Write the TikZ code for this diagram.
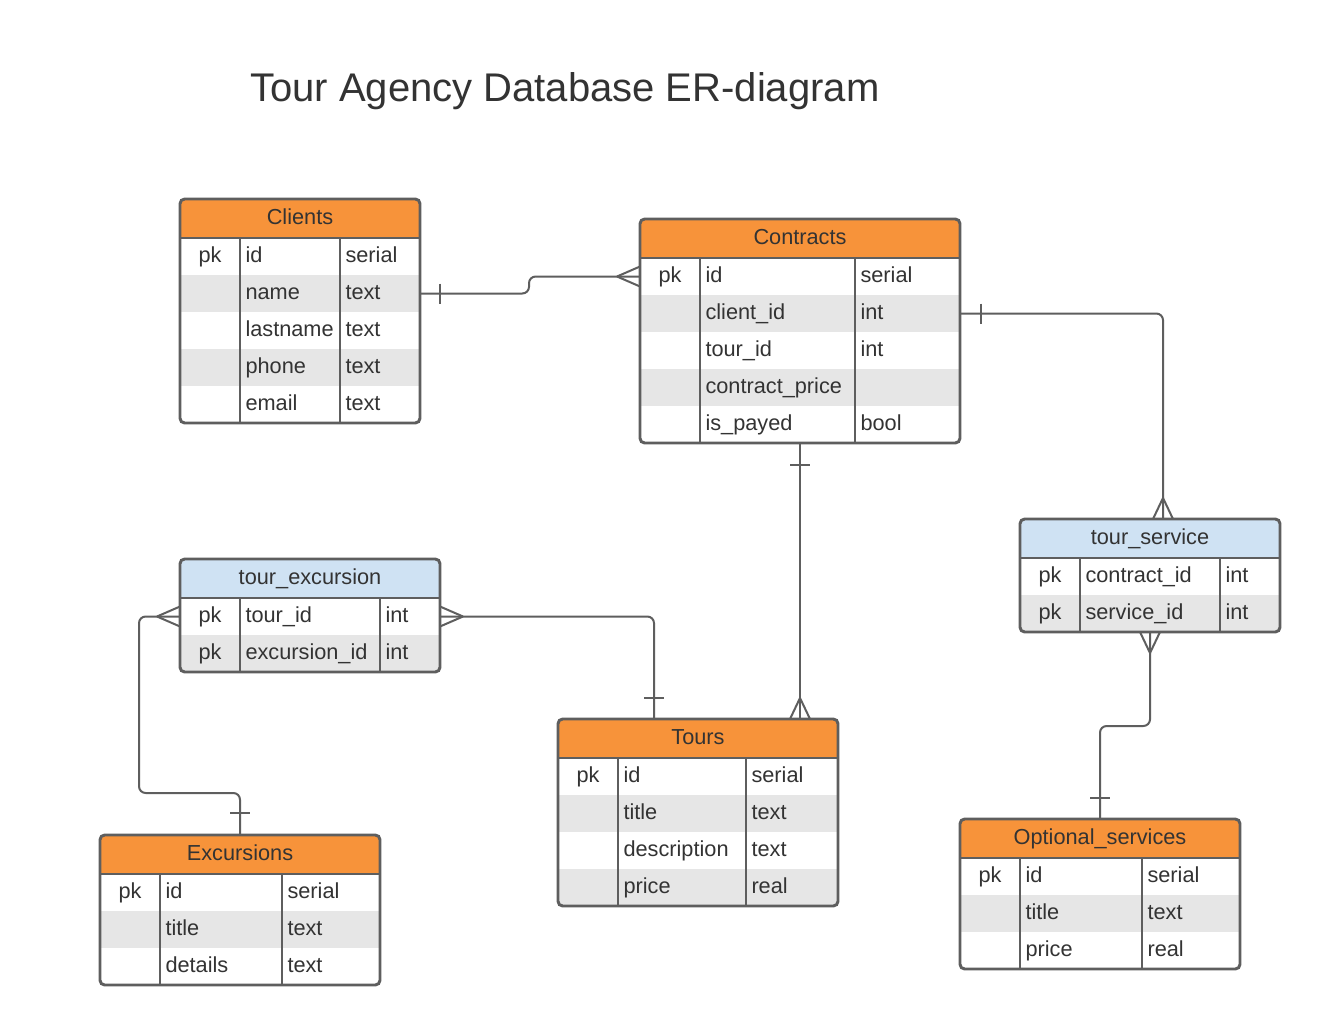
\documentclass[tikz,border=0pt]{standalone}
\usepackage{fontspec}
\setmainfont{Liberation Sans}
\usetikzlibrary{calc}
\definecolor{hdrorange}{HTML}{F7933A}
\definecolor{hdrblue}{HTML}{CFE2F3}
\definecolor{rowgray}{HTML}{E6E6E6}
\definecolor{linegray}{HTML}{5E5E5E}
\definecolor{txt}{HTML}{333333}
\tikzset{
  tabline/.style={draw=linegray, line width=2.2pt},
  conn/.style={draw=linegray, line width=1.5pt},
  celltxt/.style={font=\fontsize{16.3}{19}\selectfont, text=txt, inner sep=0pt, outer sep=0pt, text height=11.7pt, text depth=3.4pt},
  rowbox/.style={draw=none, inner sep=0pt, outer sep=0pt, minimum height={37*0.75pt}},
}
\newcommand\ertable[9]{%
  \foreach \a/\b/\c [count=\n] in {#9}{\xdef\ernrows{\n}}%
  \pgfmathsetmacro\erbot{#3+39+\ernrows*37}%
  \begin{scope}
    \clip[rounded corners=3.5pt] (#2,#3) rectangle (#2+#4,\erbot);
    \fill[#7] (#2,#3) rectangle (#2+#4,#3+39);
    \foreach \a/\b/\c [count=\i] in {#9}{%
      \pgfmathsetmacro\ytop{#3+39+(\i-1)*37}%
      \ifodd\i\def\rf{white}\else\def\rf{rowgray}\fi
      \node[rowbox, fill=\rf, minimum width={#4*0.75pt}, anchor=north west] (#1-\i) at (#2,\ytop) {};
      \node[celltxt] (#1-\i-k) at ({(#2+#5)/2},\ytop+19.3) {\a};
      \node[celltxt, anchor=west] (#1-\i-n) at (#5+5.5,\ytop+19.3) {\b};
      \node[celltxt, anchor=west] (#1-\i-t) at (#6+5.5,\ytop+19.3) {\c};
    }
  \end{scope}
  \draw[tabline] (#2,#3+39) -- (#2+#4,#3+39);
  \draw[tabline] (#5,#3+39) -- (#5,\erbot);
  \draw[tabline] (#6,#3+39) -- (#6,\erbot);
  \node[draw=linegray, line width=2.2pt, rounded corners=3.5pt, inner sep=0pt, outer sep=0pt,
        minimum width={#4*0.75pt}, minimum height={(\erbot-#3)*0.75pt}, anchor=north west] (#1) at (#2,#3) {};
  \node[celltxt] (#1-h) at ({#2+#4/2},#3+20) {#8};
}
\newcommand\crowH[2]{\draw[conn] ($(#1)+(#2*23,0)$) -- ($(#1)+(0,-10)$) ($(#1)+(#2*23,0)$) -- ($(#1)+(0,10)$);}
\newcommand\crowV[2]{\draw[conn] ($(#1)+(0,#2*21)$) -- ($(#1)+(-10,0)$) ($(#1)+(0,#2*21)$) -- ($(#1)+(10,0)$);}
\newcommand\tickH[2]{\draw[conn] ($(#1)+(#2,-10)$) -- ($(#1)+(#2,10)$);}
\newcommand\tickV[2]{\draw[conn] ($(#1)+(-10,#2)$) -- ($(#1)+(10,#2)$);}
\begin{document}
\begin{tikzpicture}[x=0.75pt, y=-0.75pt]
\useasboundingbox (0,0) rectangle (1320,1027);
\fill[white] (0,0) rectangle (1320,1027);

\node[font=\fontsize{30}{34}\selectfont, text=txt, anchor=base west, inner sep=0pt] (title) at (250,102) {Tour Agency Database ER-diagram};

\ertable{clients}{180}{199}{240}{240}{340}{hdrorange}{Clients}{pk/id/serial,/name/text,/lastname/text,/phone/text,/email/text}
\ertable{contracts}{640}{219}{320}{700}{855}{hdrorange}{Contracts}{pk/id/serial,/client\_id/int,/tour\_id/int,/contract\_price/,/is\_payed/bool}
\ertable{tsrv}{1020}{519}{260}{1080}{1220}{hdrblue}{tour\_service}{pk/contract\_id/int,pk/service\_id/int}
\ertable{texc}{180}{559}{260}{240}{380}{hdrblue}{tour\_excursion}{pk/tour\_id/int,pk/excursion\_id/int}
\ertable{tours}{558}{719}{280}{618}{746}{hdrorange}{Tours}{pk/id/serial,/title/text,/description/text,/price/real}
\ertable{exc}{100}{835}{280}{160}{282}{hdrorange}{Excursions}{pk/id/serial,/title/text,/details/text}
\ertable{opt}{960}{819}{280}{1020}{1142}{hdrorange}{Optional\_services}{pk/id/serial,/title/text,/price/real}

% Clients -- Contracts
\coordinate (c1) at ($(clients-2.east)+(109,0)$);
\draw[conn, rounded corners=5pt] (clients-2.east) -- (c1) -- (c1 |- contracts-1.west) -- (contracts-1.west);
\tickH{clients-2.east}{20}
\crowH{contracts-1.west}{-1}

% Contracts -- tour_service
\coordinate (tstop) at ($(tsrv.north)+(13,0)$);
\draw[conn, rounded corners=5pt] (contracts-2.east) -- (contracts-2.east -| tstop) -- (tstop);
\tickH{contracts-2.east}{21}
\crowV{tstop}{-1}

% Contracts -- Tours
\coordinate (trtop) at (contracts.south |- tours.north);
\draw[conn] (contracts.south) -- (trtop);
\tickV{contracts.south}{22}
\crowV{trtop}{-1}

% tour_excursion -- Tours
\coordinate (trtop2) at ($(tours.north)+(-44,0)$);
\draw[conn, rounded corners=5pt] (texc-1.east) -- (texc-1.east -| trtop2) -- (trtop2);
\crowH{texc-1.east}{1}
\tickV{trtop2}{-21}

% tour_excursion -- Excursions
\coordinate (lft) at ($(texc-1.west)+(-41,0)$);
\coordinate (bend) at ($(exc.north)+(0,-42)$);
\draw[conn, rounded corners=5pt] (texc-1.west) -- (lft) -- (lft |- bend) -- (bend) -- (exc.north);
\crowH{texc-1.west}{-1}
\tickV{exc.north}{-22}

% tour_service -- Optional_services
\coordinate (mid) at ($(tsrv.south)+(0,94)$);
\draw[conn, rounded corners=5pt] (tsrv.south) -- (mid) -- (mid -| opt.north) -- (opt.north);
\crowV{tsrv.south}{1}
\tickV{opt.north}{-21}
\end{tikzpicture}
\end{document}
